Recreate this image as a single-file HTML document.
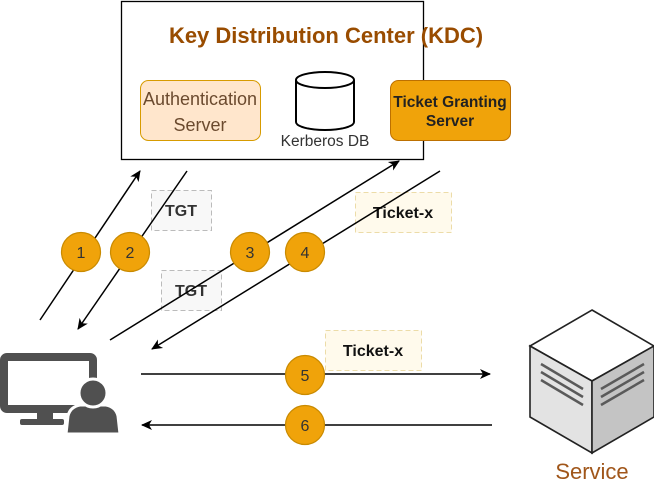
<!DOCTYPE html>
<html><head><style>body{margin:0;background:#fff}svg{display:block}text{font-family:"Liberation Sans",sans-serif}</style></head><body>
<svg width="654" height="486" viewBox="0 0 654 486" xmlns="http://www.w3.org/2000/svg">
<defs><marker id="a" markerWidth="12" markerHeight="12" refX="10" refY="6" orient="auto" markerUnits="userSpaceOnUse"><path d="M0,1 L11,6 L0,11 L3,6z" fill="#000"/></marker></defs>
<rect x="121.5" y="1.5" width="302" height="158" fill="#fff" stroke="#000" stroke-width="1.3"/>
<text x="326" y="43" font-size="22" font-weight="bold" fill="#994c00" text-anchor="middle">Key Distribution Center (KDC)</text>
<rect x="140.5" y="80.5" width="120" height="60" rx="8" fill="#ffe6cc" stroke="#d79b00"/>
<text x="200" y="105" font-size="18" fill="#6b4a2e" text-anchor="middle">Authentication</text>
<text x="200" y="131" font-size="18" fill="#6b4a2e" text-anchor="middle">Server</text>
<path d="M296,80 L296,122 A29,8 0 0 0 354,122 L354,80" fill="#fff" stroke="#000" stroke-width="2"/>
<ellipse cx="325" cy="80" rx="29" ry="8" fill="#fff" stroke="#000" stroke-width="2"/>
<text x="325" y="146" font-size="15.5" fill="#333" text-anchor="middle">Kerberos DB</text>
<rect x="390.5" y="80.5" width="120" height="60" rx="8" fill="#f0a30a" stroke="#bd7000"/>
<text x="450" y="107" font-size="15.5" font-weight="bold" fill="#222" text-anchor="middle">Ticket Granting</text>
<text x="450" y="126" font-size="15.5" font-weight="bold" fill="#222" text-anchor="middle">Server</text>
<rect x="151.5" y="190.5" width="60" height="40" fill="#f8f8f8" stroke="#bbb" stroke-dasharray="5,3"/>
<text x="181" y="216" font-size="16" font-weight="bold" fill="#333" text-anchor="middle">TGT</text>
<rect x="161.5" y="270.5" width="60" height="40" fill="#f8f8f8" stroke="#bbb" stroke-dasharray="5,3"/>
<text x="191" y="296" font-size="16" font-weight="bold" fill="#333" text-anchor="middle">TGT</text>
<rect x="355.5" y="192.5" width="96" height="40" fill="#fffaec" stroke="#ecdca8" stroke-dasharray="5,3"/>
<text x="403" y="218" font-size="16" font-weight="bold" fill="#111" text-anchor="middle">Ticket-x</text>
<rect x="325.5" y="330.5" width="96" height="40" fill="#fffaec" stroke="#ecdca8" stroke-dasharray="5,3"/>
<text x="373" y="356" font-size="16" font-weight="bold" fill="#111" text-anchor="middle">Ticket-x</text>
<g stroke="#000" stroke-width="1.5" fill="none" marker-end="url(#a)">
<line x1="40" y1="320" x2="140" y2="171"/>
<line x1="187" y1="171" x2="78" y2="329"/>
<line x1="110" y1="340" x2="399" y2="161"/>
<line x1="440" y1="171" x2="152" y2="349"/>
<line x1="141" y1="374" x2="490" y2="374"/>
<line x1="492" y1="425" x2="142" y2="425"/>
</g>
<g fill="#f0a30a" stroke="#c98a00" stroke-width="1.2">
<circle cx="81" cy="252" r="19.5"/><circle cx="130" cy="252" r="19.5"/><circle cx="250" cy="252" r="19.5"/><circle cx="305" cy="252" r="19.5"/><circle cx="305" cy="375" r="19.5"/><circle cx="305" cy="425" r="19.5"/>
</g>
<g font-size="16" fill="#333" text-anchor="middle">
<text x="81" y="258">1</text><text x="130" y="258">2</text><text x="250" y="258">3</text><text x="305" y="258">4</text><text x="305" y="381">5</text><text x="305" y="431">6</text>
</g>
<rect x="4" y="357" width="89" height="52" rx="3" fill="none" stroke="#505050" stroke-width="8"/>
<rect x="37" y="412" width="16" height="9" fill="#505050"/>
<rect x="20" y="419" width="44" height="6" rx="2" fill="#505050"/>
<g fill="#505050" stroke="#fff" stroke-width="3">
<path d="M66,434 L68,416 Q70,407 80,405 L106,405 Q116,407 118,416 L120,434z"/>
<circle cx="93" cy="393" r="14"/>
</g>
<polygon points="592,310 654,346 592,381 530,346" fill="#fff" stroke="#222" stroke-width="1.6"/>
<polygon points="530,346 592,381 592,453 530,417" fill="#e3e3e3" stroke="#222" stroke-width="1.6"/>
<polygon points="592,381 654,346 654,417 592,453" fill="#c4c4c4" stroke="#222" stroke-width="1.6"/>
<g stroke="#5a5a5a" stroke-width="2.5">
<line x1="541" y1="364" x2="583" y2="389"/><line x1="541" y1="372" x2="583" y2="397"/><line x1="541" y1="380" x2="583" y2="405"/>
<line x1="601" y1="389" x2="644" y2="364"/><line x1="601" y1="397" x2="644" y2="372"/><line x1="601" y1="405" x2="644" y2="380"/>
</g>
<text x="592" y="479" font-size="22" fill="#a0561a" text-anchor="middle">Service</text>
</svg>
</body></html>
